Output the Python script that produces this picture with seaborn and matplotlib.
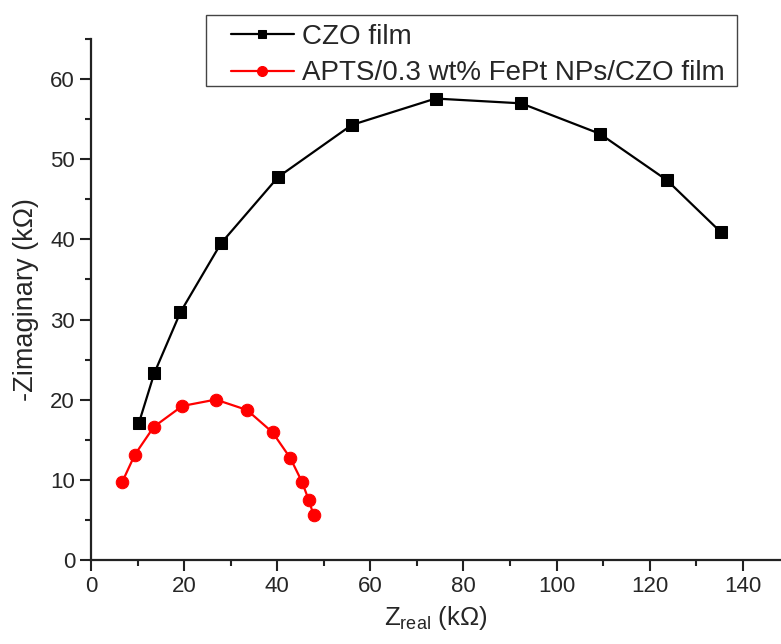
import matplotlib
matplotlib.use("Agg")
import matplotlib.pyplot as plt
import seaborn as sns
import pandas as pd
from matplotlib.ticker import MultipleLocator
from matplotlib.patches import Rectangle

czo_x = [10.3, 13.6, 19.2, 27.9, 40.2, 56.0, 74.0, 92.4, 109.3, 123.7, 135.3]
czo_y = [17.1, 23.3, 30.9, 39.5, 47.8, 54.3, 57.6, 57.0, 53.2, 47.4, 40.9]
fept_x = [6.7, 9.4, 13.5, 19.6, 26.8, 33.5, 39.0, 42.8, 45.3, 46.8, 47.8]
fept_y = [9.7, 13.1, 16.6, 19.2, 20.0, 18.7, 15.9, 12.7, 9.75, 7.4, 5.6]
labels = ["CZO film", "APTS/0.3 wt% FePt NPs/CZO film"]

sns.set_style("ticks")
plt.rcParams['font.family'] = ['Liberation Sans', 'DejaVu Sans']

W, H = 781, 644
fig = plt.figure(figsize=(W/100, H/100), dpi=100)
ax = fig.add_axes([91/W, 1-559.7/H, (W-91)/W, (559.7-39.3)/H])

df1 = pd.DataFrame({"x": czo_x, "y": czo_y})
df2 = pd.DataFrame({"x": fept_x, "y": fept_y})
sns.lineplot(data=df1, x="x", y="y", ax=ax, sort=False, color="black", marker="s",
             markersize=8, markeredgecolor="black", linewidth=1.6, label=labels[0])
sns.lineplot(data=df2, x="x", y="y", ax=ax, sort=False, color="#ff0000", marker="o",
             markersize=9, markeredgecolor="#ff0000", linewidth=1.6, label=labels[1])

ax.set_xlim(0, 148.2)
ax.set_ylim(0, 65)
ax.xaxis.set_major_locator(MultipleLocator(20))
ax.xaxis.set_minor_locator(MultipleLocator(10))
ax.yaxis.set_major_locator(MultipleLocator(10))
ax.yaxis.set_minor_locator(MultipleLocator(5))
ax.tick_params(which="major", direction="out", length=8, width=1.5, labelsize=16, color="#222222")
ax.tick_params(which="minor", direction="out", length=4.5, width=1.5, color="#222222")
for s in ["top", "right"]:
    ax.spines[s].set_visible(False)
for s in ["left", "bottom"]:
    ax.spines[s].set_linewidth(1.6)
    ax.spines[s].set_color("#222222")

ax.set_xlabel(r"Z$_{\mathregular{real}}$ (kΩ)", fontsize=18.5, labelpad=5)
ax.set_ylabel("-Zimaginary (kΩ)", fontsize=19.5, labelpad=8)

ax.legend_.remove()
h, l = ax.get_legend_handles_labels()
leg = fig.legend(h, l, loc="upper left", bbox_to_anchor=(231/W, 1-24/H),
                 fontsize=20, frameon=False, borderaxespad=0,
                 handlelength=2.25, handletextpad=0.3, borderpad=0.0, labelspacing=0.37,
                 markerscale=0.8)

fig.canvas.draw()
bb = leg.get_window_extent(fig.canvas.get_renderer())
pl, pr, pt, pb = 25, 12, 9, 0
frame = Rectangle(((bb.x0 - pl)/W, (bb.y0 - pb)/H),
                  (bb.width + pl + pr)/W, (bb.height + pt + pb)/H,
                  transform=fig.transFigure, fill=False, edgecolor="#444444",
                  linewidth=1.0, zorder=5)
fig.add_artist(frame)

fig.savefig("out.png", dpi=100)
